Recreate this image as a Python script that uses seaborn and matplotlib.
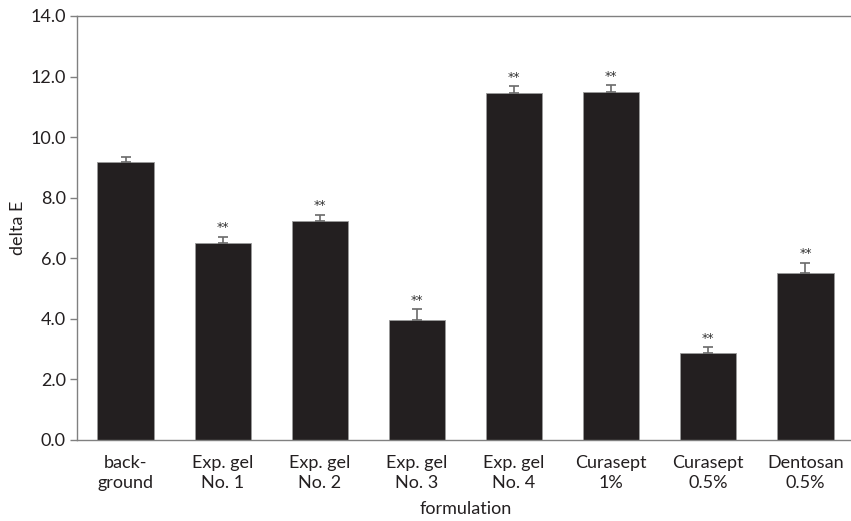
import matplotlib
matplotlib.use("Agg")
import matplotlib.pyplot as plt
import seaborn as sns
import numpy as np
import pandas as pd

categories = ["back-\nground", "Exp. gel\nNo. 1", "Exp. gel\nNo. 2", "Exp. gel\nNo. 3",
              "Exp. gel\nNo. 4", "Curasept\n1%", "Curasept\n0.5%", "Dentosan\n0.5%"]
values = [9.18, 6.49, 7.24, 3.95, 11.46, 11.50, 2.86, 5.52]
errors = [0.17, 0.22, 0.20, 0.37, 0.22, 0.22, 0.20, 0.34]
marks = ["", "**", "**", "**", "**", "**", "**", "**"]
yticks = [0, 2, 4, 6, 8, 10, 12, 14]

sns.set_theme(style="white")
plt.rcParams['font.family'] = ['Lato', 'DejaVu Sans']

fig = plt.figure(figsize=(8.51, 5.21), dpi=100)
ax = fig.add_axes([77/851, 81/521, 777/851, 424/521])

df = pd.DataFrame({"formulation": categories, "delta E": values})
sns.barplot(data=df, x="formulation", y="delta E", color="#231f20", width=0.58,
            edgecolor="#9a9a9a", linewidth=0.6, saturation=1, ax=ax, errorbar=None)

x = np.arange(len(categories))
ax.errorbar(x, values, yerr=[np.zeros(len(values)), errors], fmt="none",
            ecolor="#6a6a6a", elinewidth=1.2, capsize=3.5, capthick=1.2)
for xi, v, e, m in zip(x, values, errors, marks):
    if m:
        ax.text(xi, v + e + 0.08, m, ha="center", va="bottom", fontsize=9,
                color="#333333", family="DejaVu Sans")

ax.set_xlim(-0.5, 7.5)
ax.set_ylim(0, 14)
ax.set_yticks(yticks)
ax.set_yticklabels([f"{t:.1f}" for t in yticks])
ax.set_xticks(x)
ax.set_xticklabels(categories, linespacing=1.25)
ax.set_xticks(np.arange(0.5, 7.5, 1.0), minor=True)
ax.tick_params(axis="x", which="major", length=0, pad=11, labelsize=13, colors="#231f20")
ax.tick_params(axis="x", which="minor", length=6, width=1, color="#808080", direction="out")
ax.tick_params(axis="y", which="major", length=5, width=1, color="#808080", direction="out",
               labelsize=13, labelcolor="#231f20", left=True, pad=3)
for s in ["left", "bottom", "top"]:
    ax.spines[s].set_visible(True)
    ax.spines[s].set_color("#808080")
    ax.spines[s].set_linewidth(1)
ax.spines["right"].set_visible(False)
ax.set_ylabel("delta E", fontsize=13, color="#231f20")
ax.set_xlabel("formulation", fontsize=13, color="#231f20")
ax.yaxis.set_label_coords(-0.076, 0.5)
ax.xaxis.set_label_coords(0.5, -0.163)
ax.xaxis.label.set_va("center")
ax.yaxis.label.set_va("center")
ax.grid(False)

fig.savefig("out.png", dpi=100)
